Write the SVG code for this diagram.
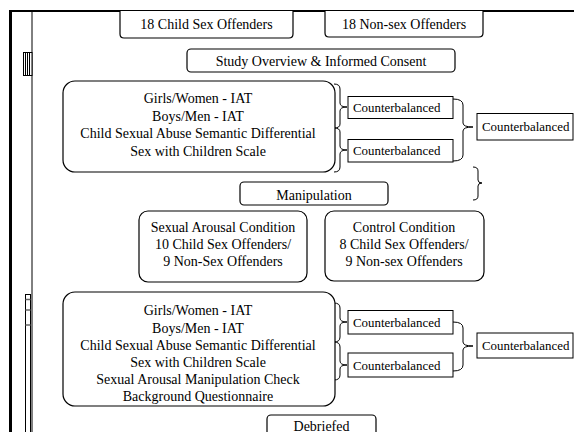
<svg xmlns="http://www.w3.org/2000/svg" width="574" height="432" viewBox="0 0 574 432">
<style>
.box{fill:#fff;stroke:#000;stroke-width:1.2}
.sq{fill:#fff;stroke:#000;stroke-width:1}
.br{fill:none;stroke:#000;stroke-width:1}
text{font-family:"Liberation Serif","Times New Roman",serif;font-size:14px;fill:#000;text-anchor:middle}
text.cb{font-size:12.9px;text-anchor:start}
</style>
<rect width="574" height="432" fill="#fff"/>
<!-- page frame -->
<line x1="9" y1="11" x2="574" y2="11" stroke="#000" stroke-width="2"/>
<line x1="10.5" y1="10" x2="10.5" y2="432" stroke="#000" stroke-width="3"/>
<line x1="32" y1="11" x2="32" y2="432" stroke="#000" stroke-width="1"/>
<g stroke="#000" stroke-width="1" fill="#fff">
<rect x="23.5" y="52.5" width="8.5" height="23"/>
<line x1="25.5" y1="52.5" x2="25.5" y2="75.5"/>
<line x1="27.5" y1="52.5" x2="27.5" y2="75.5"/>
<line x1="29.5" y1="52.5" x2="29.5" y2="75.5"/>
</g>
<g stroke="#000" stroke-width="1" fill="none">
<rect x="25.5" y="294.5" width="5" height="140"/>
<line x1="25.5" y1="299.5" x2="30.5" y2="299.5" stroke="#666" stroke-width="1.5"/>
<line x1="25.5" y1="310" x2="30.5" y2="310" stroke="#666" stroke-width="1.5"/>
<line x1="25.5" y1="325" x2="30.5" y2="325" stroke="#666" stroke-width="1.5"/>
</g>

<g id="connectors">
<!-- top group braces -->
<path class="br" d="M334,84 Q340,84 340,89 V103 Q340,107 347,107 Q340,107 340,111 V124 Q340,128 334,128"/>
<path class="br" d="M334,128 Q340,128 340,132 V146 Q340,150 347,150 Q340,150 340,154 V167 Q340,172 334,172"/>
<path class="br" d="M453,99 Q463,99 463,105 V123 Q463,127 473,127 Q463,127 463,131 V155 Q463,161 453,161"/>
<path class="br" d="M473,167 Q478,167 478,171 V180 Q478,183 482,183 Q478,183 478,186 V196 Q478,200 473,200"/>
<!-- bottom group braces -->
<path class="br" d="M334,303 Q340,303 340,308 V318 Q340,322 347,322 Q340,322 340,326 V337 Q340,342 334,342"/>
<path class="br" d="M334,342 Q340,342 340,347 V361 Q340,365 347,365 Q340,365 340,369 V375 Q340,380 334,380"/>
<path class="br" d="M453,322 Q463,322 463,328 V342 Q463,346 473,346 Q463,346 463,350 V365 Q463,371 453,371"/>
</g>

<g id="child-offenders">
<path class="box" d="M120,11 V34 Q120,38 124,38 H289 Q293,38 293,34 V11"/>
<text x="206.5" y="29">18 Child Sex Offenders</text>
</g>
<g id="nonsex-offenders">
<path class="box" d="M325,11 V33 Q325,37 329,37 H479 Q483,37 483,33 V11"/>
<text x="404" y="29">18 Non-sex Offenders</text>
</g>
<g id="overview">
<rect class="box" x="187" y="49" width="268" height="23" rx="4"/>
<text x="321" y="66">Study Overview &amp; Informed Consent</text>
</g>
<g id="measures1">
<rect class="box" x="63" y="81" width="272" height="91" rx="12"/>
<text x="198" y="103">Girls/Women - IAT</text>
<text x="198" y="120.5">Boys/Men - IAT</text>
<text x="198" y="138">Child Sexual Abuse Semantic Differential</text>
<text x="198" y="155.5">Sex with Children Scale</text>
</g>
<g id="cb1">
<rect class="sq" x="348" y="96.5" width="105" height="22"/>
<text class="cb" x="353" y="112">Counterbalanced</text>
</g>
<g id="cb2">
<rect class="sq" x="348" y="139.5" width="105" height="22.5"/>
<text class="cb" x="353" y="155">Counterbalanced</text>
</g>
<g id="cb3">
<rect class="sq" x="477" y="113.5" width="96" height="26.5"/>
<text class="cb" x="482" y="131">Counterbalanced</text>
</g>
<g id="manipulation">
<rect class="box" x="240" y="182" width="148" height="23" rx="4"/>
<text x="314" y="200">Manipulation</text>
</g>
<g id="arousal">
<rect class="box" x="139" y="211" width="168" height="71" rx="9"/>
<text x="223" y="232">Sexual Arousal Condition</text>
<text x="223" y="249">10 Child Sex Offenders/</text>
<text x="223" y="266">9 Non-Sex Offenders</text>
</g>
<g id="control">
<rect class="box" x="325" y="211" width="159" height="70" rx="9"/>
<text x="404" y="232">Control Condition</text>
<text x="404" y="249">8 Child Sex Offenders/</text>
<text x="404" y="266">9 Non-sex Offenders</text>
</g>
<g id="measures2">
<rect class="box" x="63" y="292" width="272" height="114" rx="12"/>
<text x="198" y="315">Girls/Women - IAT</text>
<text x="198" y="332.5">Boys/Men - IAT</text>
<text x="198" y="350">Child Sexual Abuse Semantic Differential</text>
<text x="198" y="367">Sex with Children Scale</text>
<text x="198" y="384">Sexual Arousal Manipulation Check</text>
<text x="198" y="401">Background Questionnaire</text>
</g>
<g id="cb4">
<rect class="sq" x="348" y="310.5" width="105" height="23.5"/>
<text class="cb" x="353" y="327">Counterbalanced</text>
</g>
<g id="cb5">
<rect class="sq" x="348" y="353" width="105" height="24"/>
<text class="cb" x="353" y="369.5">Counterbalanced</text>
</g>
<g id="cb6">
<rect class="sq" x="477" y="333" width="96" height="25"/>
<text class="cb" x="482" y="350">Counterbalanced</text>
</g>
<g id="debriefed">
<rect class="box" x="267" y="415" width="109" height="30" rx="4"/>
<text x="321.5" y="430.5">Debriefed</text>
</g>
</svg>
